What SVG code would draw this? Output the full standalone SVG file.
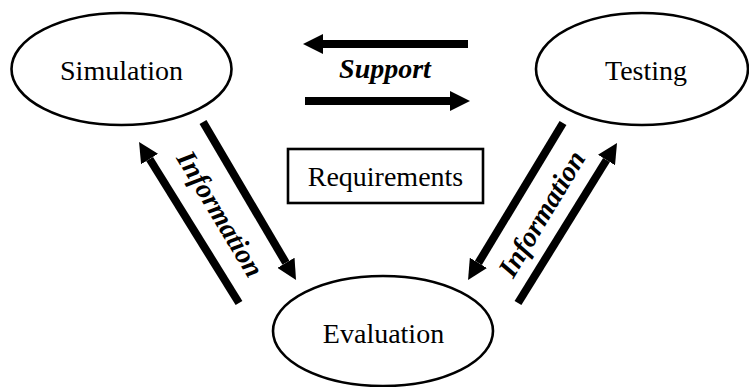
<svg xmlns="http://www.w3.org/2000/svg" width="749" height="387" viewBox="0 0 749 387">
<style>
.node{fill:#fff;stroke:#000;stroke-width:2.6}
.lbl{font-family:"Liberation Serif","Times New Roman",serif;font-size:28px;fill:#000;text-anchor:middle}
.bi{font-weight:bold;font-style:italic}
.conn{stroke:#000;stroke-width:8;fill:none}
</style>
<defs>
<marker id="ah" markerUnits="userSpaceOnUse" viewBox="0 0 20 20" markerWidth="20" markerHeight="20" refX="0" refY="10" orient="auto">
<path d="M0,0 L20,10 L0,20 z" fill="#000"/>
</marker>
</defs>
<rect width="749" height="387" fill="#fff"/>
<g id="connectors">
<line class="conn" x1="468" y1="44" x2="323" y2="44" marker-end="url(#ah)"/>
<line class="conn" x1="305" y1="101" x2="450" y2="101" marker-end="url(#ah)"/>
<line class="conn" x1="203" y1="122" x2="285.9" y2="262.8" marker-end="url(#ah)"/>
<line class="conn" x1="239" y1="303" x2="149.6" y2="159" marker-end="url(#ah)"/>
<line class="conn" x1="563" y1="123" x2="478.4" y2="262.9" marker-end="url(#ah)"/>
<line class="conn" x1="518" y1="303" x2="606.5" y2="160" marker-end="url(#ah)"/>
<text class="lbl bi" x="385" y="78">Support</text>
<text class="lbl bi" transform="translate(220,214) rotate(59)" x="0" y="9">Information</text>
<text class="lbl bi" transform="translate(542,214) rotate(-59)" x="0" y="9">Information</text>
</g>
<g id="simulation">
<ellipse class="node" cx="121.5" cy="69" rx="110" ry="56"/>
<text class="lbl" x="121.5" y="80">Simulation</text>
</g>
<g id="testing">
<ellipse class="node" cx="642" cy="69" rx="106" ry="56"/>
<text class="lbl" x="646" y="80">Testing</text>
</g>
<g id="requirements">
<rect class="node" x="288" y="149" width="195" height="54"/>
<text class="lbl" x="385.5" y="186">Requirements</text>
</g>
<g id="evaluation">
<ellipse class="node" cx="383" cy="331" rx="110" ry="55"/>
<text class="lbl" x="383.5" y="343">Evaluation</text>
</g>
</svg>
